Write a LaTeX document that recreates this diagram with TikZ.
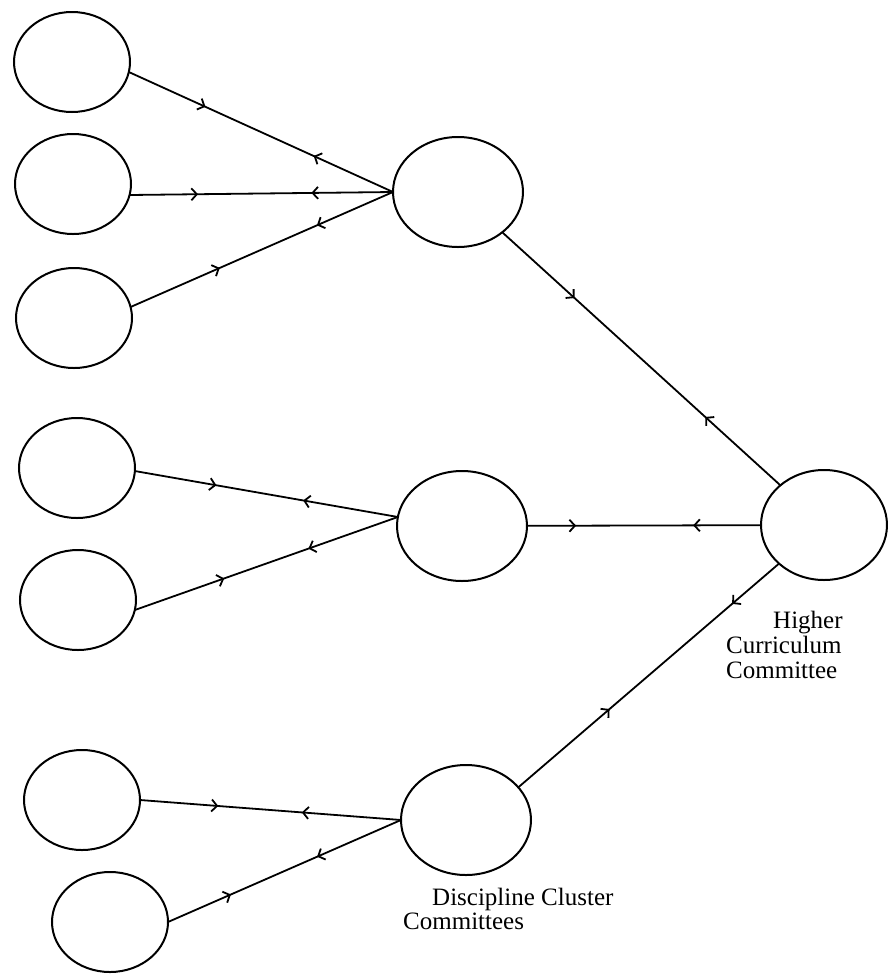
\documentclass[tikz,border=0pt]{standalone}
\usepackage{fontspec}
\setmainfont{Liberation Serif}
\usetikzlibrary{shapes.geometric,arrows.meta,decorations.markings}
\tikzset{
  mybarb/.tip={Straight Barb[length=5.5pt,width=12pt,line width=1.8pt]},
  leftcirc/.style={ellipse,draw,line width=2pt,minimum width=116pt,minimum height=100pt,inner sep=0pt,outer sep=0pt},
  midcirc/.style={ellipse,draw,line width=2pt,minimum width=130pt,minimum height=110pt,inner sep=0pt,outer sep=0pt},
  topcirc/.style={ellipse,draw,line width=2pt,minimum width=126pt,minimum height=110pt,inner sep=0pt,outer sep=0pt},
  link/.style 2 args={line width=1.8pt,postaction={decorate},
    decoration={markings,
      mark=at position #1 with {\arrow{mybarb}},
      mark=at position #2 with {\arrowreversed{mybarb}}}},
  lbl/.style={anchor=base west,inner sep=0pt,font=\fontsize{25}{25}\selectfont}
}
\begin{document}
\begin{tikzpicture}[x=1pt,y=-1pt]
\useasboundingbox (0,0) rectangle (888,978);
% left committees
\node[leftcirc] (l1) at (72,62) {};
\node[leftcirc] (l2) at (73,184) {};
\node[leftcirc] (l3) at (74,318) {};
\node[leftcirc] (l4) at (77,468) {};
\node[leftcirc] (l5) at (78,600) {};
\node[leftcirc] (l6) at (82,800) {};
\node[leftcirc] (l7) at (110,922) {};
% discipline cluster committees
\node[midcirc] (A) at (458,192) {};
\node[midcirc] (B) at (462,526) {};
\node[midcirc] (C) at (466,820) {};
% higher curriculum committee
\node[topcirc] (R) at (824,525) {};
% labels
\node[lbl] (h1) at (773,628) {Higher};
\node[lbl] (h2) at (726,653) {Curriculum};
\node[lbl] (h3) at (726,678) {Committee};
\node[lbl] (d1) at (432,905) {Discipline Cluster};
\node[lbl] (d2) at (403,929) {Committees};
% connectors
\draw[link={0.29}{0.70}] (l1.-10) -- (A.west);
\draw[link={0.26}{0.69}] (l2.-11) -- (A.west);
\draw[link={0.34}{0.71}] (l3.11) -- (A.west);
\draw[link={0.31}{0.64}] (l4.-3) -- (B.172);
\draw[link={0.34}{0.66}] (l5.-10) -- (B.172);
\draw[link={0.30}{0.62}] (l6.0) -- (C.west);
\draw[link={0.27}{0.64}] (l7.0) -- (C.west);
\draw[link={0.26}{0.73}] (A) -- (R);
\draw[link={0.21}{0.71}] (B) -- (R);
\draw[link={0.35}{0.82}] (C.32) -- (R);
\end{tikzpicture}
\end{document}
